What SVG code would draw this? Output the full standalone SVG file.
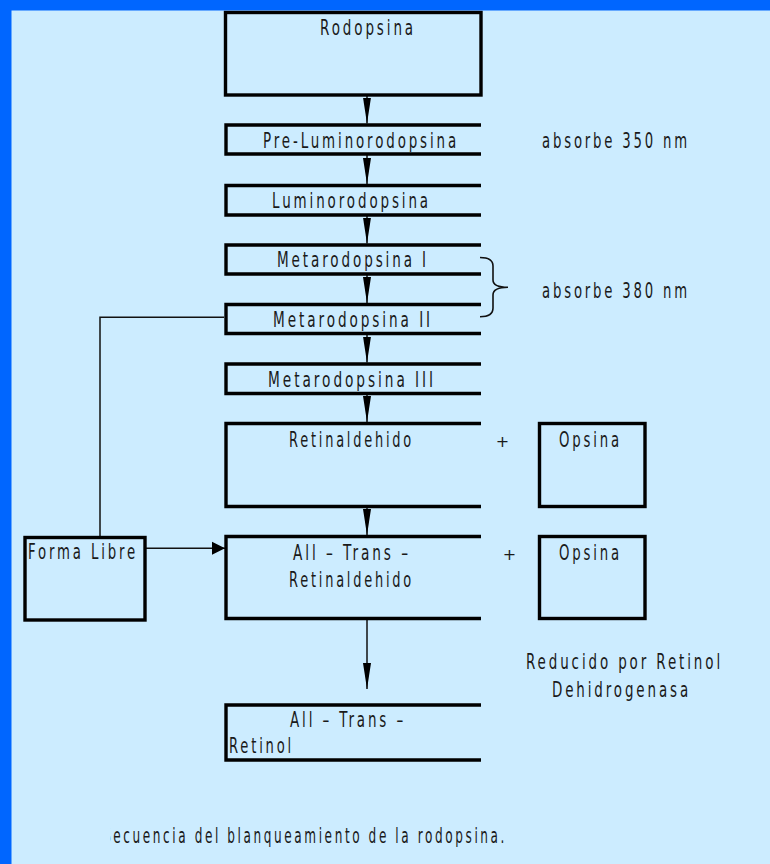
<svg xmlns="http://www.w3.org/2000/svg" width="770" height="864" viewBox="0 0 770 864">
  <defs>
    <style>
      .bx { fill: none; stroke: #000; stroke-width: 3.4; stroke-linejoin: miter; }
      .cn { fill: none; stroke: #111; stroke-width: 1.5; }
      .t { font-family: "DejaVu Sans", "Liberation Sans", sans-serif; font-size: 21px; fill: #1a1a1a; letter-spacing: 4.5px; }
      .p { font-family: "DejaVu Sans", "Liberation Sans", sans-serif; font-size: 16px; fill: #1a1a1a; }
    </style>
    <marker id="ah" markerUnits="userSpaceOnUse" markerWidth="27" markerHeight="9" refX="26" refY="4.5" orient="auto">
      <path d="M0,0.5 L26,4.5 L0,8.5 z" fill="#000"/>
    </marker>
    <marker id="ahw" markerUnits="userSpaceOnUse" markerWidth="14" markerHeight="14" refX="13" refY="7" orient="auto">
      <path d="M0,0.5 L13,7 L0,13.5 z" fill="#000"/>
    </marker>
    <clipPath id="capclip">
      <rect x="110" y="800" width="660" height="64"/>
    </clipPath>
  </defs>

  <rect x="0" y="0" width="770" height="864" fill="#CCECFF"/>
  <rect x="0" y="0" width="770" height="10.5" fill="#0066FF"/>
  <rect x="0" y="0" width="11.5" height="864" fill="#0066FF"/>

  <g id="connectors">
    <line class="cn" x1="367" y1="95" x2="367" y2="123.5" marker-end="url(#ah)"/>
    <line class="cn" x1="367" y1="154" x2="367" y2="184" marker-end="url(#ah)"/>
    <line class="cn" x1="367" y1="215" x2="367" y2="243.5" marker-end="url(#ah)"/>
    <line class="cn" x1="367" y1="274" x2="367" y2="303" marker-end="url(#ah)"/>
    <line class="cn" x1="367" y1="333.5" x2="367" y2="362.5" marker-end="url(#ah)"/>
    <line class="cn" x1="367" y1="393.5" x2="367" y2="422" marker-end="url(#ah)"/>
    <line class="cn" x1="367" y1="506.5" x2="367" y2="535" marker-end="url(#ah)"/>
    <line class="cn" x1="367" y1="618.5" x2="367" y2="689" marker-end="url(#ah)"/>
    <polyline class="cn" points="224,317.3 100,317.3 100,536"/>
    <line class="cn" x1="145" y1="548.3" x2="225" y2="548.3" marker-end="url(#ahw)"/>
    <path id="brace" d="M480,257.5 Q493,257.5 493,266 L493,280 Q493,287.3 508,287.3 Q493,287.3 493,295 L493,308 Q493,316.7 480,316.7" fill="none" stroke="#111" stroke-width="1.6"/>
  </g>

  <g id="rodopsina">
    <rect class="bx" x="225.5" y="12.5" width="255.5" height="82.5"/>
    <text class="t" x="320" y="35" textLength="96" lengthAdjust="spacingAndGlyphs">Rodopsina</text>
  </g>
  <g id="prelumino">
    <path class="bx" d="M481,125 H226 V154 H481"/>
    <text class="t" x="263" y="148.3" textLength="196" lengthAdjust="spacingAndGlyphs">Pre-Luminorodopsina</text>
  </g>
  <g id="lumino">
    <path class="bx" d="M481,185.5 H226 V215 H481"/>
    <text class="t" x="272" y="208.3" textLength="159" lengthAdjust="spacingAndGlyphs">Luminorodopsina</text>
  </g>
  <g id="meta1">
    <path class="bx" d="M481,245 H226 V274 H481"/>
    <text class="t" x="277" y="267.3" textLength="152" lengthAdjust="spacingAndGlyphs">Metarodopsina I</text>
  </g>
  <g id="meta2">
    <path class="bx" d="M481,304.5 H226 V333.5 H481"/>
    <text class="t" x="273" y="327.3" textLength="160" lengthAdjust="spacingAndGlyphs">Metarodopsina II</text>
  </g>
  <g id="meta3">
    <path class="bx" d="M481,364 H226 V393.5 H481"/>
    <text class="t" x="268" y="386.7" textLength="168" lengthAdjust="spacingAndGlyphs">Metarodopsina III</text>
  </g>
  <g id="retinaldehido">
    <path class="bx" d="M481,423.5 H226 V506.5 H481"/>
    <text class="t" x="289" y="446.7" textLength="125" lengthAdjust="spacingAndGlyphs">Retinaldehido</text>
  </g>
  <g id="plus1">
    <text class="p" x="502.5" y="446.5" text-anchor="middle">+</text>
  </g>
  <g id="opsina1">
    <rect class="bx" x="539.5" y="423.5" width="105.5" height="83"/>
    <text class="t" x="559" y="446.7" textLength="63" lengthAdjust="spacingAndGlyphs">Opsina</text>
  </g>
  <g id="formalibre">
    <rect class="bx" x="25" y="537.5" width="120" height="82.5"/>
    <text class="t" x="28" y="559.3" textLength="110" lengthAdjust="spacingAndGlyphs">Forma Libre</text>
  </g>
  <g id="alltrans-retinaldehido">
    <path class="bx" d="M481,536.5 H226 V618.5 H481"/>
    <text class="t" x="293" y="560" textLength="118" lengthAdjust="spacingAndGlyphs">All – Trans –</text>
    <text class="t" x="289" y="586.7" textLength="125" lengthAdjust="spacingAndGlyphs">Retinaldehido</text>
  </g>
  <g id="plus2">
    <text class="p" x="509.5" y="559.5" text-anchor="middle">+</text>
  </g>
  <g id="opsina2">
    <rect class="bx" x="539.5" y="536.5" width="105.5" height="82"/>
    <text class="t" x="559" y="560" textLength="63" lengthAdjust="spacingAndGlyphs">Opsina</text>
  </g>
  <g id="alltrans-retinol">
    <path class="bx" d="M481,705 H226 V760 H481"/>
    <text class="t" x="290" y="726.7" textLength="116" lengthAdjust="spacingAndGlyphs">All – Trans –</text>
    <text class="t" x="229" y="752.7" textLength="65" lengthAdjust="spacingAndGlyphs">Retinol</text>
  </g>

  <g id="labels">
    <text class="t" x="542" y="148.3" textLength="148" lengthAdjust="spacingAndGlyphs">absorbe 350 nm</text>
    <text class="t" x="542" y="298.3" textLength="148" lengthAdjust="spacingAndGlyphs">absorbe 380 nm</text>
    <text class="t" x="526" y="669.3" textLength="197" lengthAdjust="spacingAndGlyphs">Reducido por Retinol</text>
    <text class="t" x="552" y="697.3" textLength="139" lengthAdjust="spacingAndGlyphs">Dehidrogenasa</text>
    <text class="t" x="103" y="843.3" textLength="404" lengthAdjust="spacingAndGlyphs" clip-path="url(#capclip)">Secuencia del blanqueamiento de la rodopsina.</text>
  </g>
</svg>
